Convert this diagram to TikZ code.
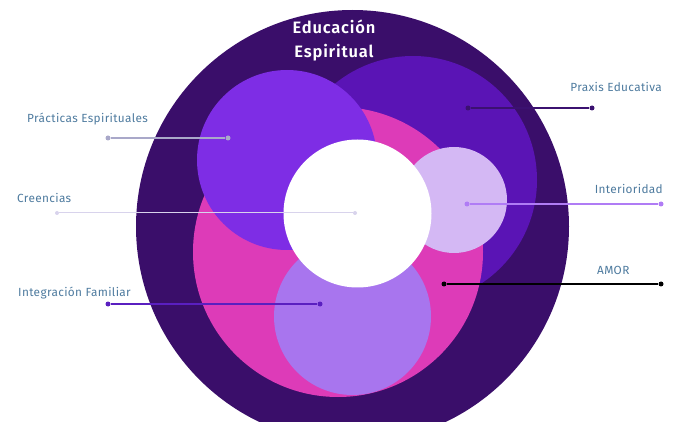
\documentclass[tikz,border=0pt]{standalone}
\usepackage{fontspec}
\setmainfont{Fira Sans}
\newfontfamily\titlefont[LetterSpace=5]{Fira Sans SemiBold}
\newfontfamily\labelfont[LetterSpace=3]{Fira Sans}
\definecolor{outerc}{HTML}{3A0E6A}
\definecolor{praxisc}{HTML}{5A14B5}
\definecolor{practc}{HTML}{7E2DE5}
\definecolor{amorc}{HTML}{DD3BB8}
\definecolor{interc}{HTML}{D4B8F4}
\definecolor{integc}{HTML}{A875EE}
\definecolor{labelc}{HTML}{4D7A9E}
\definecolor{lpract}{HTML}{A9A8C9}
\definecolor{lcreen}{HTML}{D8D3EC}
\definecolor{linteg}{HTML}{5A1FC0}
\definecolor{lpraxis}{HTML}{3B1170}
\definecolor{linter}{HTML}{B07CF5}
\begin{document}
\begin{tikzpicture}[x=1pt,y=-1pt,
  lbl/.style={font=\labelfont\fontsize{11.8}{14}\selectfont, text=labelc, inner sep=0pt},
  dotn/.style={circle, fill=#1, inner sep=0pt, minimum size=5pt},
  conn/.style={line width=1.3pt, draw=#1}]
\useasboundingbox (0,0) rectangle (675,422);
\begin{scope}
\clip (0,0) rectangle (675,422);
\fill[outerc] (352.5,226.5) circle (216.5);
\fill[praxisc] (413,180) circle (124);
\fill[amorc] (338,252) circle (145);
\fill[practc] (287,160) circle (90);
\fill[integc] (352.5,316.5) circle (78.5);
\fill[interc] (454,200) circle (53);
\fill[white] (357.5,213.5) circle (74);
\end{scope}
\node[font=\titlefont\fontsize{16.5}{24}\selectfont, text=white, align=center] (title) at (334,40) {Educación\\Espiritual};
% labels
\node[lbl, anchor=west] (lpr) at (27,119) {Prácticas Espirituales};
\node[lbl, anchor=west] (lcr) at (17,198) {Creencias};
\node[lbl, anchor=west] (lin) at (18,293) {Integración Familiar};
\node[lbl, anchor=east] (lpx) at (662,87) {Praxis Educativa};
\node[lbl, anchor=east] (lit) at (663,189) {Interioridad};
\node[lbl, anchor=west] (lam) at (597,270) {AMOR};
% dots and connectors
\node[dotn=lpract] (pr1) at (108,138) {};
\node[dotn=lpract] (pr2) at (228,138) {};
\draw[conn=lpract] (pr1) -- (pr2);
\node[dotn=lcreen, minimum size=4pt] (cr1) at (57,213) {};
\node[dotn=lcreen, minimum size=4pt] (cr2) at (355,213) {};
\draw[conn=lcreen, line width=1pt] (cr1) -- (cr2);
\node[dotn=linteg] (in1) at (108,304) {};
\node[dotn=linteg] (in2) at (320,304) {};
\draw[conn=linteg] (in1) -- (in2);
\node[dotn=lpraxis] (px1) at (468,108) {};
\node[dotn=lpraxis] (px2) at (592,108) {};
\draw[conn=lpraxis] (px1) -- (px2);
\node[dotn=linter] (it1) at (467,204) {};
\node[dotn=linter] (it2) at (661,204) {};
\draw[conn=linter] (it1) -- (it2);
\node[dotn=black] (am1) at (444,284) {};
\node[dotn=black] (am2) at (661,284) {};
\draw[conn=black] (am1) -- (am2);
\end{tikzpicture}
\end{document}
